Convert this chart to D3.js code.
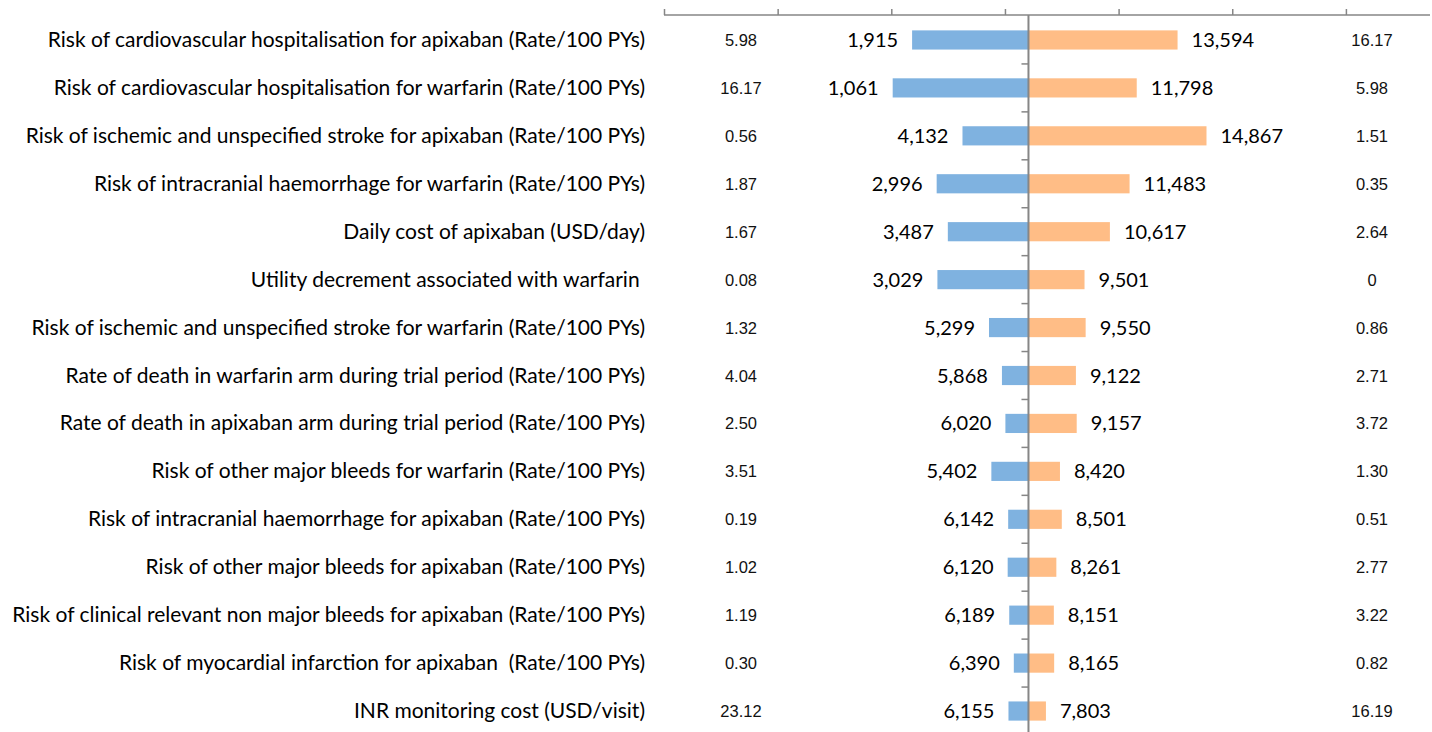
<!DOCTYPE html>
<html>
<head>
<meta charset="utf-8">
<script src="https://cdn.jsdelivr.net/npm/d3@7"></script>
<style>
  html, body { margin: 0; padding: 0; background: #fff; }
  svg { display: block; }
  .cat { font-family: Lato, sans-serif; font-size: 21px; fill: #000; white-space: pre; }
  .val { font-family: Lato, sans-serif; font-size: 20px; fill: #000; }
  .param { font-family: "Liberation Sans", Arial, sans-serif; font-size: 16.5px; fill: #111; }
</style>
</head>
<body>
<div id="chart"></div>
<script>
// ---------------------------------------------------------------------------
// Tornado diagram — one-way sensitivity of the ICER (USD/QALY)
// ---------------------------------------------------------------------------

const categories = [
  'Risk of cardiovascular hospitalisation for apixaban (Rate/100 PYs)',
  'Risk of cardiovascular hospitalisation for warfarin (Rate/100 PYs)',
  'Risk of ischemic and unspecified stroke for apixaban (Rate/100 PYs)',
  'Risk of intracranial haemorrhage for warfarin (Rate/100 PYs)',
  'Daily cost of apixaban (USD/day)',
  'Utility decrement associated with warfarin ',
  'Risk of ischemic and unspecified stroke for warfarin (Rate/100 PYs)',
  'Rate of death in warfarin arm during trial period (Rate/100 PYs)',
  'Rate of death in apixaban arm during trial period (Rate/100 PYs)',
  'Risk of other major bleeds for warfarin (Rate/100 PYs)',
  'Risk of intracranial haemorrhage for apixaban (Rate/100 PYs)',
  'Risk of other major bleeds for apixaban (Rate/100 PYs)',
  'Risk of clinical relevant non major bleeds for apixaban (Rate/100 PYs)',
  'Risk of myocardial infarction for apixaban  (Rate/100 PYs)',
  'INR monitoring cost (USD/visit)'
];

// ICER at the two ends of each parameter range
const lowIcer  = [1915, 1061, 4132, 2996, 3487, 3029, 5299, 5868, 6020, 5402, 6142, 6120, 6189, 6390, 6155];
const highIcer = [13594, 11798, 14867, 11483, 10617, 9501, 9550, 9122, 9157, 8420, 8501, 8261, 8151, 8165, 7803];

// parameter values that give those ICERs
const lowParam  = ['5.98', '16.17', '0.56', '1.87', '1.67', '0.08', '1.32', '4.04', '2.50', '3.51', '0.19', '1.02', '1.19', '0.30', '23.12'];
const highParam = ['16.17', '5.98', '1.51', '0.35', '2.64', '0', '0.86', '2.71', '3.72', '1.30', '0.51', '2.77', '3.22', '0.82', '16.19'];

const baseIcer = 7035;
const axisTicks = [-9000, -4000, 1000, 6000, 11000, 16000, 21000];

(function() {
  'use strict';

  const width = 1432, height = 732;
  const blue = '#7fb2e0', orange = '#ffbd86', grey = '#868686';

  const svg = d3.select('#chart').append('svg')
    .attr('width', width)
    .attr('height', height);

  const x = d3.scaleLinear().domain([-9000, 24700]).range([664, 1430]);

  const y = d3.scaleBand()
    .domain(categories)
    .range([16, 735])
    .paddingInner(0.6)
    .paddingOuter(0.3);

  const rows = categories.map((c, i) => ({
    cat: c, lo: lowIcer[i], hi: highIcer[i], pLo: lowParam[i], pHi: highParam[i]
  }));

  // Top axis (no labels, ticks pointing up)
  const axis = svg.append('g')
    .attr('transform', 'translate(0,15)')
    .call(d3.axisTop(x).tickValues(axisTicks).tickSize(6).tickFormat(''));
  axis.select('.domain').attr('stroke', grey).attr('stroke-width', 1.5)
    .attr('d', `M${x.range()[0]},0H${x.range()[1]}`);
  axis.selectAll('.tick line').attr('stroke', grey).attr('stroke-width', 1.5);

  // Bars
  const g = svg.append('g');
  g.selectAll('rect.lo')
    .data(rows)
    .join('rect')
    .attr('class', 'lo')
    .attr('x', d => x(d.lo))
    .attr('y', d => y(d.cat))
    .attr('width', d => x(baseIcer) - x(d.lo))
    .attr('height', y.bandwidth())
    .attr('fill', blue);

  g.selectAll('rect.hi')
    .data(rows)
    .join('rect')
    .attr('class', 'hi')
    .attr('x', x(baseIcer))
    .attr('y', d => y(d.cat))
    .attr('width', d => x(d.hi) - x(baseIcer))
    .attr('height', y.bandwidth())
    .attr('fill', orange);

  // Centre line and minor ticks between rows
  svg.append('line')
    .attr('x1', x(baseIcer)).attr('x2', x(baseIcer))
    .attr('y1', 15).attr('y2', height)
    .attr('stroke', grey).attr('stroke-width', 2);

  const step = y.step();
  svg.append('g').selectAll('line')
    .data(rows.slice(1))
    .join('line')
    .attr('x1', x(baseIcer) - 7).attr('x2', x(baseIcer))
    .attr('y1', d => y(d.cat) + y.bandwidth() / 2 - step / 2)
    .attr('y2', d => y(d.cat) + y.bandwidth() / 2 - step / 2)
    .attr('stroke', grey).attr('stroke-width', 1.5);

  const mid = d => y(d.cat) + y.bandwidth() / 2;
  const fmt = d3.format(',');

  // Category labels
  svg.append('g').selectAll('text')
    .data(rows)
    .join('text')
    .attr('class', 'cat')
    .attr('x', 645)
    .attr('y', d => mid(d) + 7)
    .attr('text-anchor', 'end')
    .text(d => d.cat);

  // ICER labels beside the bars
  svg.append('g').selectAll('text')
    .data(rows)
    .join('text')
    .attr('class', 'val')
    .attr('x', d => x(d.lo) - 14)
    .attr('y', d => mid(d) + 7)
    .attr('text-anchor', 'end')
    .text(d => fmt(d.lo));

  svg.append('g').selectAll('text')
    .data(rows)
    .join('text')
    .attr('class', 'val')
    .attr('x', d => x(d.hi) + 14)
    .attr('y', d => mid(d) + 7)
    .text(d => fmt(d.hi));

  // Parameter values at either side
  svg.append('g').selectAll('text')
    .data(rows)
    .join('text')
    .attr('class', 'param')
    .attr('x', 741)
    .attr('y', d => mid(d) + 6)
    .attr('text-anchor', 'middle')
    .text(d => d.pLo);

  svg.append('g').selectAll('text')
    .data(rows)
    .join('text')
    .attr('class', 'param')
    .attr('x', 1372)
    .attr('y', d => mid(d) + 6)
    .attr('text-anchor', 'middle')
    .text(d => d.pHi);
})();
</script>
</body>
</html>
